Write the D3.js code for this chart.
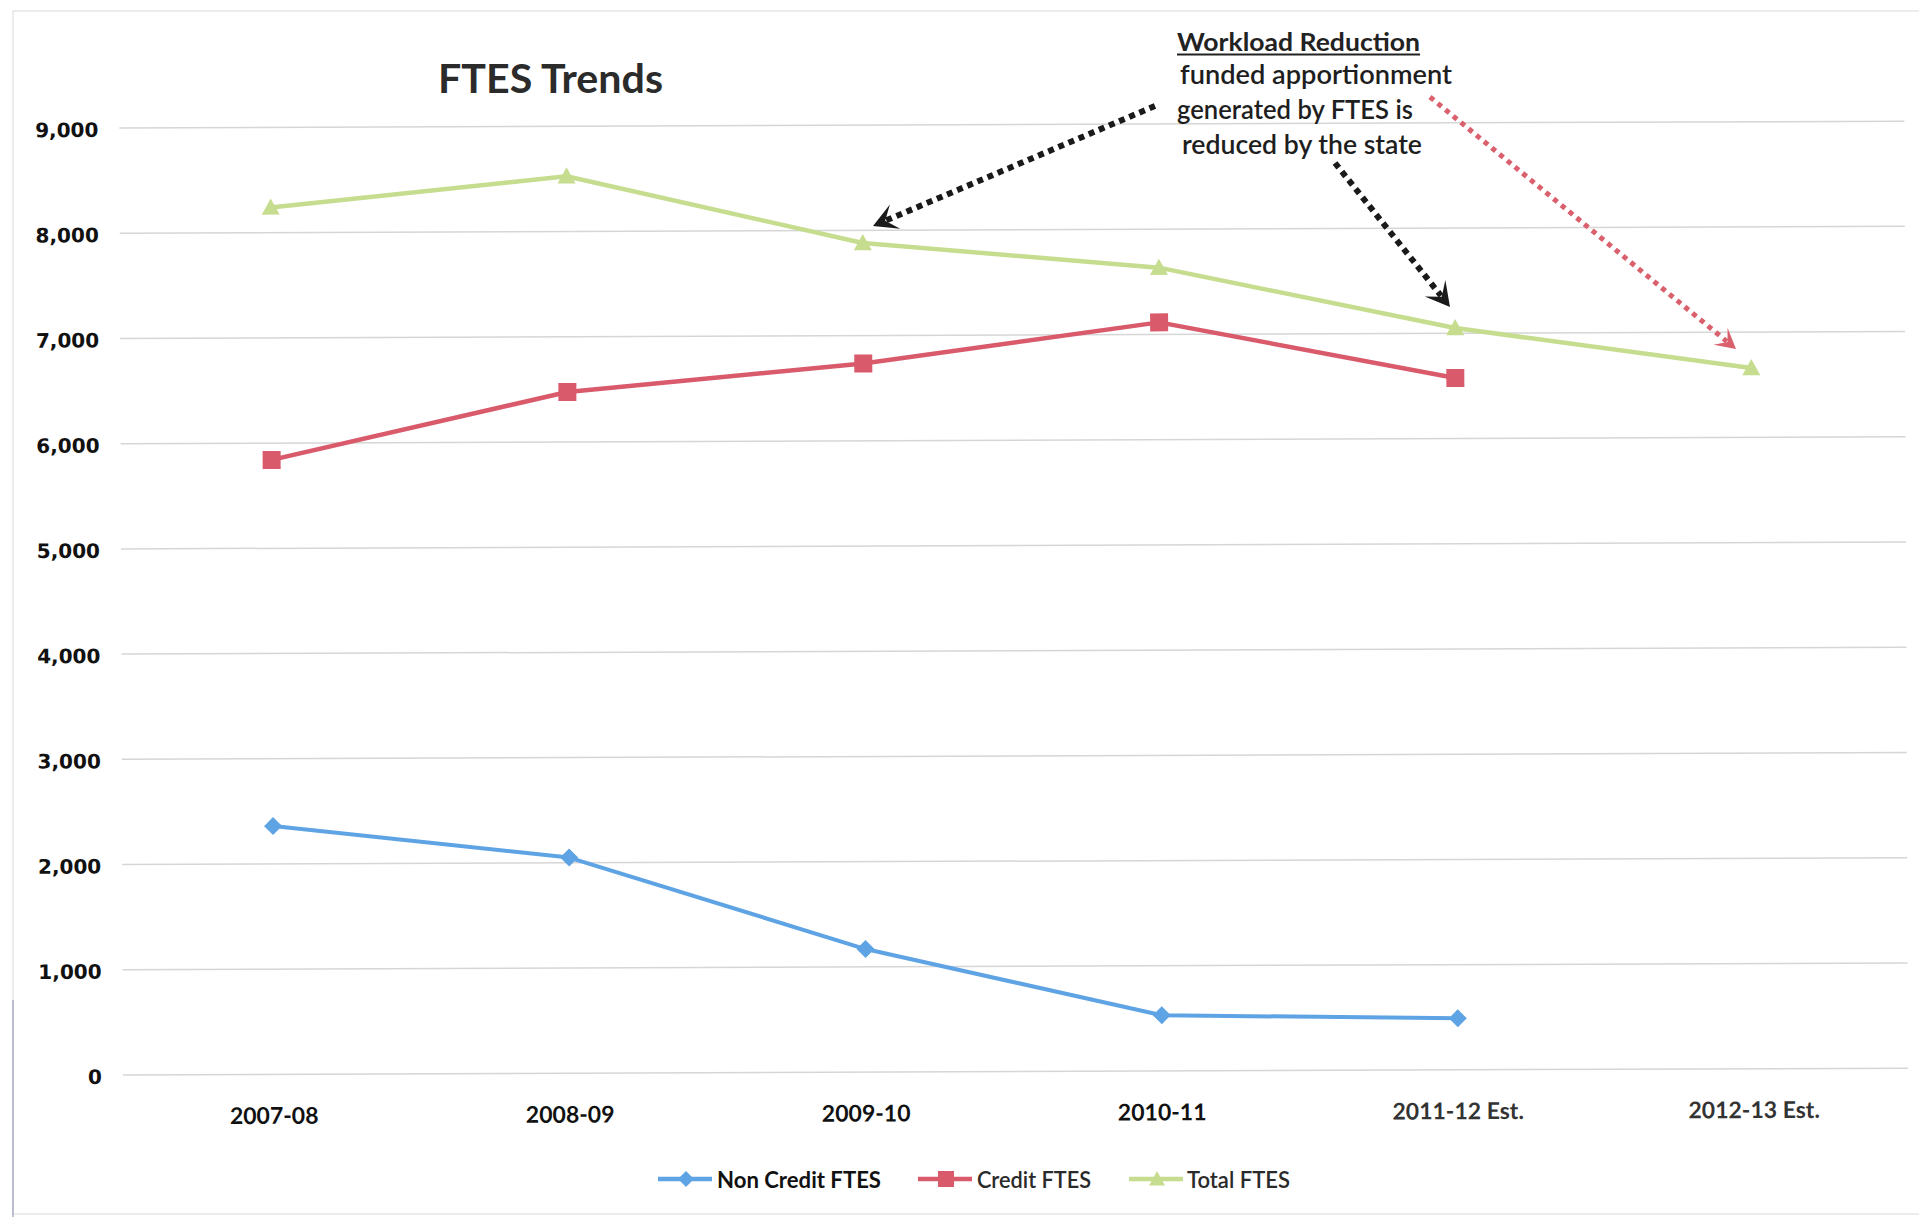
<!DOCTYPE html>
<html lang="en">
<head>
<meta charset="UTF-8">
<title>FTES Trends</title>
<script src="https://cdn.jsdelivr.net/npm/d3@7"></script>
<style>
  body { margin: 0; background: #fff; }
  svg { display: block; }
</style>
</head>
<body>
<div id="chart"></div>
<script>
// data
const categories = ["2007-08", "2008-09", "2009-10", "2010-11", "2011-12 Est.", "2012-13 Est."];
const nonCredit = [2360, 2050, 1170, 530, 490, null];
const credit = [5840, 6475, 6735, 7115, 6575, null];
const total = [8240, 8525, 7880, 7635, 7050, 6660];
const yTicks = [0, 1000, 2000, 3000, 4000, 5000, 6000, 7000, 8000, 9000];
const seriesNames = ["Non Credit FTES", "Credit FTES", "Total FTES"];
const noteLines = ["funded apportionment", "generated by FTES is", "reduced by the state"];

const width = 1919, height = 1217;
const colors = { blue: "#5ea3e3", red: "#d95b6b", green: "#c6dc8e" };

const svg = d3.select("#chart").append("svg")
  .attr("width", width).attr("height", height);

// faint frame of the scanned page
svg.append("rect").attr("x", 13).attr("y", 11).attr("width", 1920).attr("height", 1203)
  .attr("fill", "none").attr("stroke", "#e6e6e6").attr("stroke-width", 1.5);
svg.append("line").attr("x1", 13).attr("x2", 13).attr("y1", 1000).attr("y2", 1217)
  .attr("stroke", "#8e95bd").attr("stroke-width", 1.5).attr("opacity", 0.7);

// the scan is tilted a little, so the plot sits in a rotated group
const plot = svg.append("g").attr("transform", "rotate(-0.22, 123, 1075)");

const x = d3.scaleBand().domain(categories).range([126, 1902]);
const cx = d => x(d) + x.bandwidth() / 2;
const y = d3.scaleLinear().domain([0, 9000]).range([1075, 128]);

// gridlines
plot.append("g").selectAll("line").data(yTicks).enter().append("line")
  .attr("x1", 123).attr("x2", 1908)
  .attr("y1", d => y(d)).attr("y2", d => y(d))
  .attr("stroke", "#d6d6d6").attr("stroke-width", 1.5);

// y axis labels
const yAxis = d3.axisLeft(y).tickValues(yTicks).tickFormat(d3.format(",")).tickSize(0).tickPadding(0);
const gy = plot.append("g").attr("transform", "translate(102,2)").call(yAxis);
gy.select(".domain").remove();
gy.selectAll("text")
  .attr("font-family", "DejaVu Sans").attr("font-weight", "bold")
  .attr("font-size", 20).attr("fill", "#111");

// x axis labels
const xAxis = d3.axisBottom(x).tickSize(0).tickPadding(0);
const gx = plot.append("g").attr("transform", "translate(0,1108)").call(xAxis);
gx.select(".domain").remove();
gx.selectAll("text")
  .attr("font-family", "Lato").attr("font-weight", "bold")
  .attr("font-size", 23)
  .attr("fill", (d, i) => i < 4 ? "#111" : "#333");

// marker shapes
function marker(g, kind, px, py, color, s) {
  if (kind === "diamond") {
    g.append("path").attr("d", `M${px},${py - s}L${px + s},${py}L${px},${py + s}L${px - s},${py}Z`).attr("fill", color);
  } else if (kind === "square") {
    g.append("rect").attr("x", px - s).attr("y", py - s).attr("width", 2 * s).attr("height", 2 * s).attr("fill", color);
  } else {
    g.append("path").attr("d", `M${px},${py - s}L${px + s},${py + s * 0.8}L${px - s},${py + s * 0.8}Z`).attr("fill", color);
  }
}

const series = [
  { values: total, color: colors.green, kind: "triangle", w: 4.5, s: 9 },
  { values: credit, color: colors.red, kind: "square", w: 4.5, s: 9 },
  { values: nonCredit, color: colors.blue, kind: "diamond", w: 4, s: 9 }
];

const line = d3.line()
  .defined(d => d.v != null)
  .x(d => cx(d.c)).y(d => y(d.v));

series.forEach(sr => {
  const pts = categories.map((c, i) => ({ c: c, v: sr.values[i] }));
  const g = plot.append("g");
  g.append("path").datum(pts).attr("d", line)
    .attr("fill", "none").attr("stroke", sr.color).attr("stroke-width", sr.w)
    .attr("stroke-linejoin", "round");
  pts.filter(p => p.v != null).forEach(p => marker(g, sr.kind, cx(p.c), y(p.v), sr.color, sr.s));
});

// title
svg.append("text").attr("x", 438).attr("y", 93)
  .attr("font-family", "Lato").attr("font-weight", "bold").attr("font-size", 40)
  .attr("fill", "#2b2b2b").attr("textLength", 225).attr("lengthAdjust", "spacingAndGlyphs")
  .text("FTES Trends");

// annotation
svg.append("text").attr("x", 1177).attr("y", 51)
  .attr("font-family", "Lato").attr("font-weight", "bold").attr("font-size", 25)
  .attr("fill", "#222").attr("textLength", 243).attr("lengthAdjust", "spacingAndGlyphs")
  .text("Workload Reduction");
svg.append("line").attr("x1", 1177).attr("x2", 1420).attr("y1", 54.5).attr("y2", 54.5)
  .attr("stroke", "#222").attr("stroke-width", 2);

const noteX = [1180, 1177, 1182], noteY = [84, 119, 154], noteW = [272, 236, 240];
noteLines.forEach((t, i) => {
  svg.append("text").attr("x", noteX[i]).attr("y", noteY[i])
    .attr("font-family", "Lato").attr("font-weight", 600).attr("font-size", 26).attr("fill", "#1e1e1e")
    .attr("textLength", noteW[i]).attr("lengthAdjust", "spacingAndGlyphs")
    .text(t);
});

// dotted arrows
function arrow(x1, y1, x2, y2, color, w, dash, head) {
  const a = Math.atan2(y2 - y1, x2 - x1);
  const ux = Math.cos(a), uy = Math.sin(a);
  svg.append("line")
    .attr("x1", x1).attr("y1", y1)
    .attr("x2", x2 - ux * head * 0.6).attr("y2", y2 - uy * head * 0.6)
    .attr("stroke", color).attr("stroke-width", w).attr("stroke-dasharray", dash);
  const bx = x2 - ux * head, by = y2 - uy * head;
  const nx = -uy, ny = ux;
  const hw = head * 0.55;
  const mx = x2 - ux * head * 0.55, my = y2 - uy * head * 0.55;
  svg.append("path")
    .attr("d", `M${x2},${y2}L${bx + nx * hw},${by + ny * hw}L${mx},${my}L${bx - nx * hw},${by - ny * hw}Z`)
    .attr("fill", color);
}
arrow(1155, 106, 873, 226, "#1a1a1a", 6, "6 5", 24);
arrow(1335, 163, 1450, 307, "#1a1a1a", 6, "6 5", 24);
arrow(1430, 97, 1736, 349, "#d9606c", 5, "5 5", 20);

// legend
const legX = [658, 918, 1129];
const legText = [717, 977, 1187];
const legW = [164, 114, 103];
const legKinds = ["diamond", "square", "triangle"];
const legColors = [colors.blue, colors.red, colors.green];
const legY = 1179;
seriesNames.forEach((name, i) => {
  const g = svg.append("g");
  g.append("line").attr("x1", legX[i]).attr("x2", legX[i] + 54)
    .attr("y1", legY).attr("y2", legY)
    .attr("stroke", legColors[i]).attr("stroke-width", 4.5);
  marker(g, legKinds[i], legX[i] + 28, legY, legColors[i], 8);
  g.append("text").attr("x", legText[i]).attr("y", legY + 9)
    .attr("font-family", "Lato").attr("font-weight", i === 0 ? "bold" : 600)
    .attr("font-size", 23).attr("fill", i === 0 ? "#111" : "#2a2a2a")
    .attr("textLength", legW[i]).attr("lengthAdjust", "spacingAndGlyphs")
    .text(name);
});
</script>
</body>
</html>
